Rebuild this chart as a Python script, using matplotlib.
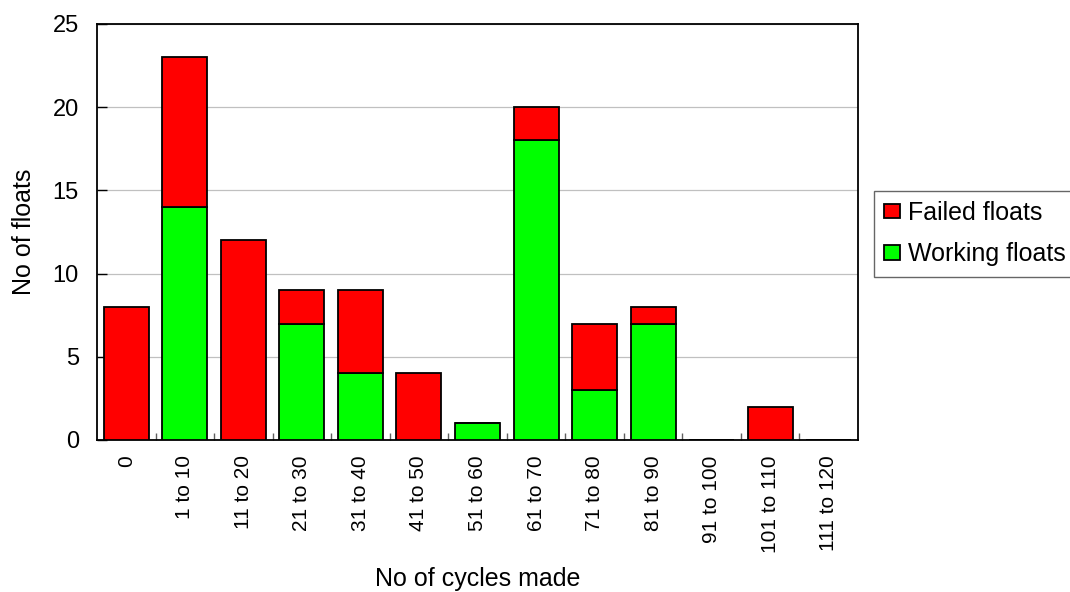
import numpy as np
import matplotlib.pyplot as plt
from matplotlib.ticker import FixedLocator

# Data
categories = ["0", "1 to 10", "11 to 20", "21 to 30", "31 to 40", "41 to 50",
              "51 to 60", "61 to 70", "71 to 80", "81 to 90", "91 to 100",
              "101 to 110", "111 to 120"]
working = [0, 14, 0, 7, 4, 0, 1, 18, 3, 7, 0, 0, 0]
failed = [8, 9, 12, 2, 5, 4, 0, 2, 4, 1, 0, 2, 0]

COLOR_FAILED = "#FF0000"
COLOR_WORKING = "#00FF00"

plt.rcParams["font.family"] = ["Liberation Sans", "DejaVu Sans"]

fig = plt.figure(figsize=(10.7, 5.92), dpi=100)
ax = fig.add_axes([97 / 1070, 1 - 440 / 592, (858 - 97) / 1070, (440 - 24) / 592])

x = np.arange(len(categories))
ax.bar(x, working, width=0.77, color=COLOR_WORKING, edgecolor="black",
       linewidth=1.3, label="Working floats", zorder=3)
ax.bar(x, failed, width=0.77, bottom=working, color=COLOR_FAILED,
       edgecolor="black", linewidth=1.3, label="Failed floats", zorder=3)

ax.set_xlim(-0.5, len(categories) - 0.5)
ax.set_ylim(0, 25)
ax.set_yticks([0, 5, 10, 15, 20, 25])
ax.yaxis.grid(True, color="#c0c0c0", linewidth=0.9, zorder=0)

# category labels centred, tick marks between categories (Excel style)
ax.set_xticks(x)
ax.set_xticklabels(categories, rotation=90, va="top", ha="center", fontsize=15)
ax.tick_params(axis="x", which="major", length=0, pad=11)
ax.xaxis.set_minor_locator(FixedLocator(np.arange(0.5, len(categories) - 0.5, 1)))
ax.tick_params(axis="x", which="minor", direction="in", length=5, width=1,
               color="#606060")
ax.tick_params(axis="y", direction="in", length=7, width=1, labelsize=17, pad=13)

for s in ax.spines.values():
    s.set_linewidth(1.3)

ax.set_xlabel("No of cycles made", fontsize=18, labelpad=10)
ax.set_ylabel("No of floats", fontsize=18, labelpad=12)

# legend sits partly outside the right edge, as in the original
handles, labels = ax.get_legend_handles_labels()
leg = fig.legend(handles[::-1], labels[::-1], loc="upper left",
                 bbox_to_anchor=(874 / 1070, 1 - 191 / 592), fontsize=18,
                 frameon=True, fancybox=False, edgecolor="#404040",
                 handlelength=0.64, handleheight=0.52, handletextpad=0.3,
                 borderpad=0.4, labelspacing=0.7, borderaxespad=0)
leg.get_frame().set_linewidth(1.0)

fig.savefig("out.png", dpi=100)
